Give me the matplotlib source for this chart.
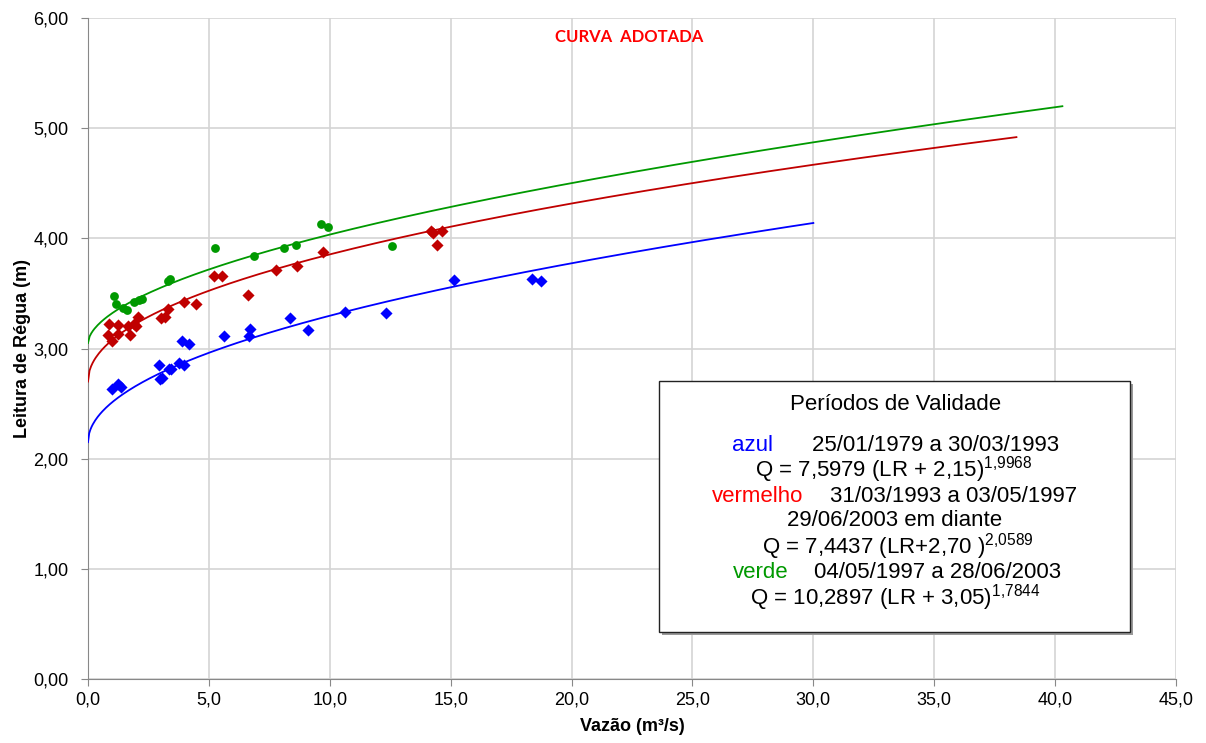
import numpy as np
import matplotlib
matplotlib.use("Agg")
import matplotlib.pyplot as plt
from matplotlib.patches import Rectangle
from matplotlib.ticker import FuncFormatter, MultipleLocator

plt.rcParams['font.family'] = ['Liberation Sans', 'DejaVu Sans']
plt.rcParams['mathtext.fontset'] = 'custom'
plt.rcParams['mathtext.rm'] = 'Liberation Sans'
plt.rcParams['mathtext.it'] = 'Liberation Sans'

# ---- measured points (vazão m3/s, leitura m) ----
blue_q = [0.98, 1.23, 1.36, 2.94, 2.98, 3.05, 3.35, 3.45, 3.76, 3.97, 3.87, 4.19,
          5.64, 6.66, 6.70, 8.34, 9.11, 10.64, 12.32, 15.15, 18.35, 18.73]
blue_h = [2.63, 2.68, 2.65, 2.85, 2.72, 2.73, 2.81, 2.81, 2.87, 2.85, 3.07, 3.04,
          3.11, 3.11, 3.18, 3.28, 3.17, 3.33, 3.32, 3.62, 3.63, 3.61]

red_q = [0.87, 1.25, 0.84, 0.98, 1.23, 1.64, 1.92, 1.97, 1.75, 2.05, 3.02, 3.18,
         3.32, 3.98, 4.45, 5.20, 5.55, 6.63, 7.76, 8.66, 9.71, 14.17, 14.28, 14.65, 14.45]
red_h = [3.22, 3.21, 3.12, 3.07, 3.13, 3.20, 3.22, 3.20, 3.12, 3.29, 3.28, 3.29,
         3.36, 3.42, 3.40, 3.66, 3.66, 3.49, 3.71, 3.75, 3.88, 4.07, 4.05, 4.07, 3.94]

green_q = [1.06, 1.14, 1.46, 1.63, 1.92, 2.11, 2.25, 3.32, 3.40, 5.25, 6.88, 8.12,
           8.60, 9.65, 9.94, 12.56]
green_h = [3.48, 3.40, 3.37, 3.35, 3.42, 3.44, 3.45, 3.61, 3.63, 3.91, 3.84, 3.91,
           3.94, 4.13, 4.10, 3.93]

# ---- adopted rating curves: Q = a (LR - h0)^n  (parameters from the chart) ----
blue_curve = dict(a=7.5979, h0=2.15, n=1.9968, qmax=30.0)
red_curve = dict(a=7.4437, h0=2.70, n=2.0589, qmax=38.4)
green_curve = dict(a=10.2897, h0=3.05, n=1.7844, qmax=40.3)

BLUE = '#0000FF'
RED = '#C00000'
GREEN = '#009900'

W, H = 1206, 743
fig = plt.figure(figsize=(W / 100, H / 100), dpi=100)
ax = fig.add_axes([88 / W, 1 - 679 / H, 1088 / W, 661 / H])

for c, col in ((blue_curve, BLUE), (red_curve, RED), (green_curve, GREEN)):
    q = np.linspace(0, c['qmax'], 600)
    h = c['h0'] + (q / c['a']) ** (1.0 / c['n'])
    ax.plot(q, h, color=col, lw=1.3, zorder=3)

ax.scatter(blue_q, blue_h, marker='D', s=38, color=BLUE, linewidths=0, zorder=4)
ax.scatter(red_q, red_h, marker='D', s=38, color=RED, linewidths=0, zorder=4)
ax.scatter(green_q, green_h, marker='o', s=40, color=GREEN, linewidths=0, zorder=4)

ax.set_xlim(0, 45)
ax.set_ylim(0, 6)
ax.xaxis.set_major_locator(MultipleLocator(5))
ax.yaxis.set_major_locator(MultipleLocator(1))
ax.xaxis.set_major_formatter(FuncFormatter(lambda v, p: f"{v:.1f}".replace('.', ',')))
ax.yaxis.set_major_formatter(FuncFormatter(lambda v, p: f"{v:.2f}".replace('.', ',')))
ax.grid(True, color='#D4D4D4', lw=1.2)
ax.set_axisbelow(True)
for s in ('top', 'right'):
    ax.spines[s].set_visible(False)
for s in ('left', 'bottom'):
    ax.spines[s].set_color('#888888')
ax.tick_params(axis='both', labelsize=13, colors='#888888', labelcolor='black', length=5)
ax.tick_params(axis='y', pad=9)
ax.tick_params(axis='x', pad=4)
ax.set_xlabel('Vazão (m³/s)', fontsize=13, fontweight='bold', labelpad=7)
ax.set_ylabel('Leitura de Régua (m)', fontsize=13, fontweight='bold', labelpad=2)

def fx(px):
    return px / W

def fy(py):
    return 1 - py / H

fig.text(fx(629), fy(37), 'CURVA  ADOTADA', color='#FF0000', fontsize=12,
         fontweight='bold', ha='center', va='center', family=['Lato', 'DejaVu Sans'])

# legend box
fig.patches.append(Rectangle((fx(662), fy(635)), (1130 - 659) / W, (632 - 381) / H,
                             transform=fig.transFigure, facecolor='#999999',
                             edgecolor='none', zorder=5))
fig.patches.append(Rectangle((fx(659), fy(632)), (1130 - 659) / W, (632 - 381) / H,
                             transform=fig.transFigure, facecolor='white',
                             edgecolor='#222222', lw=1.0, zorder=6))

fs = 16
kw = dict(fontsize=fs, va='center', zorder=7)
fig.text(fx(896), fy(405), 'Períodos de Validade', ha='center', **kw)
fig.text(fx(732), fy(445), 'azul', ha='left', color=BLUE, **kw)
fig.text(fx(812), fy(445), '25/01/1979 a 30/03/1993', ha='left', **kw)
fig.text(fx(894), fy(470), r'Q = 7,5979 (LR + 2,15)$^{1{,}9968}$', ha='center', **kw)
fig.text(fx(712), fy(496), 'vermelho', ha='left', color='#FF0000', **kw)
fig.text(fx(830), fy(496), '31/03/1993 a 03/05/1997', ha='left', **kw)
fig.text(fx(895), fy(521), '29/06/2003 em diante', ha='center', **kw)
fig.text(fx(898), fy(547), r'Q = 7,4437 (LR+2,70 )$^{2{,}0589}$', ha='center', **kw)
fig.text(fx(733), fy(573), 'verde', ha='left', color=GREEN, **kw)
fig.text(fx(814), fy(573), '04/05/1997 a 28/06/2003', ha='left', **kw)
fig.text(fx(895), fy(598), r'Q = 10,2897 (LR + 3,05)$^{1{,}7844}$', ha='center', **kw)

fig.savefig('out.png', dpi=100, facecolor='white')
